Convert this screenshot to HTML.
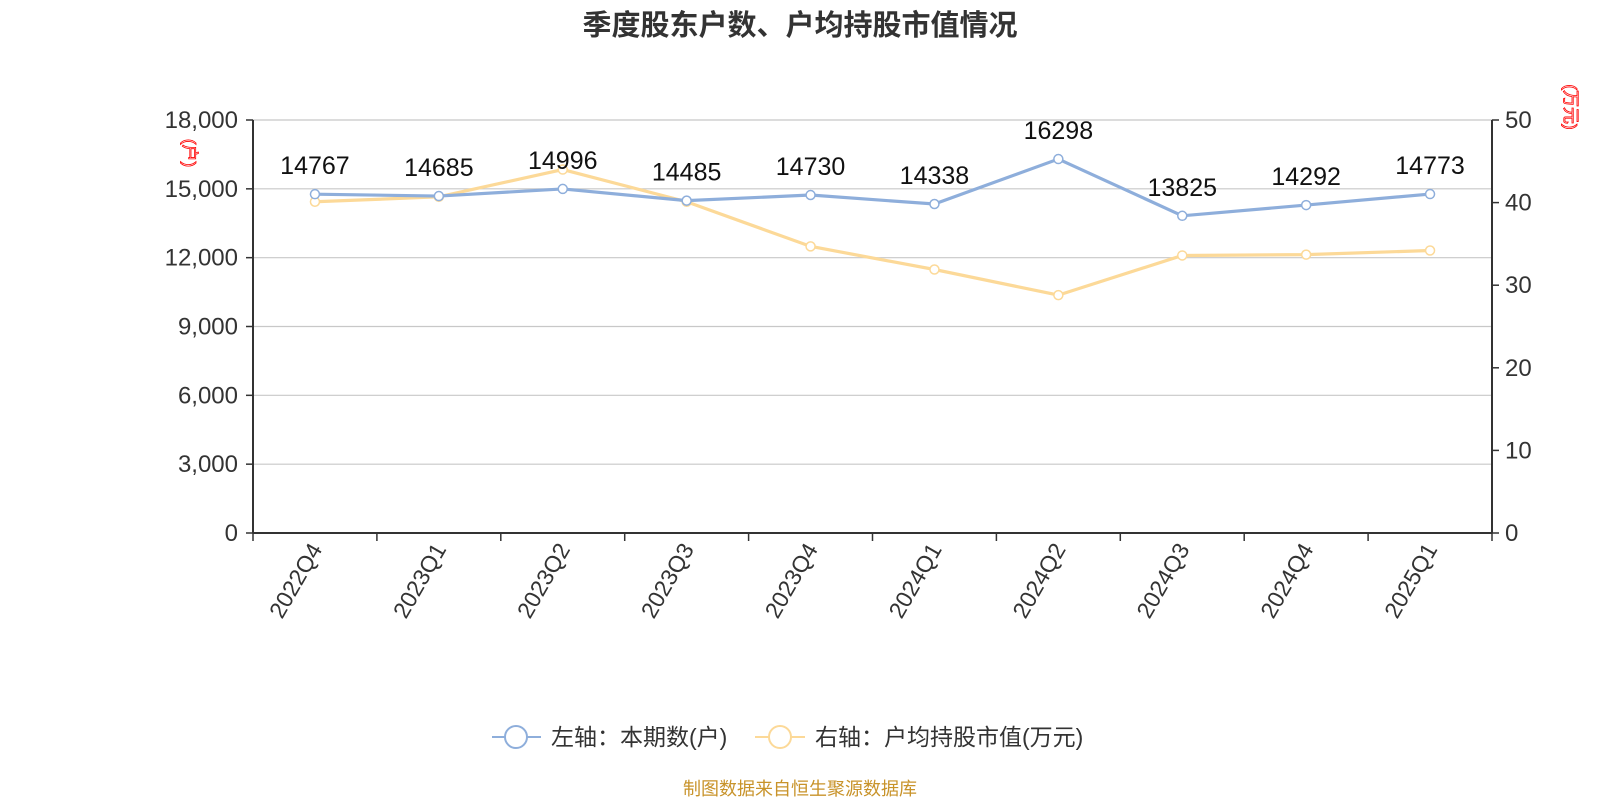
<!DOCTYPE html>
<html><head><meta charset="utf-8"><style>
body{margin:0;background:#fff;width:1600px;height:800px;overflow:hidden;font-family:"Liberation Sans","Noto Sans CJK SC",sans-serif}
</style></head><body>
<svg width="1600" height="800" xmlns="http://www.w3.org/2000/svg" font-family="Liberation Sans, Noto Sans CJK SC, sans-serif">
<text x="800" y="35" text-anchor="middle" font-size="29" font-weight="bold" fill="#333">季度股东户数、户均持股市值情况</text>
<g id="grid"></g><g id="axes"></g><g id="series"></g>
<text transform="translate(184,153) rotate(90)" text-anchor="middle" font-size="17" fill="none" stroke="red" stroke-width="0.8">(户)</text>
<text transform="translate(1565,107) rotate(90)" text-anchor="middle" font-size="17" fill="none" stroke="red" stroke-width="0.8">(万元)</text>
<g>
<g><line x1="492" y1="737" x2="541" y2="737" stroke="#8eaedb" stroke-width="2"/><circle cx="516" cy="737" r="11" fill="#fff" stroke="#8eaedb" stroke-width="2"/><text x="551" y="745" font-size="23" fill="#333">左轴：本期数(户)</text></g>
<g><line x1="755" y1="737" x2="805" y2="737" stroke="#fcd998" stroke-width="2"/><circle cx="780" cy="737" r="11" fill="#fff" stroke="#fcd998" stroke-width="2"/><text x="815" y="745" font-size="23" fill="#333">右轴：户均持股市值(万元)</text></g>
</g>
<text x="800" y="795" text-anchor="middle" font-size="18" fill="#c8932a">制图数据来自恒生聚源数据库</text>
</svg>
<script>
const categories=["2022Q4","2023Q1","2023Q2","2023Q3","2023Q4","2024Q1","2024Q2","2024Q3","2024Q4","2025Q1"];
const households=[14767,14685,14996,14485,14730,14338,16298,13825,14292,14773];
const avgValue=[40.1,40.7,44.0,40.1,34.7,31.9,28.8,33.6,33.7,34.2];
const leftTicks=[0,3000,6000,9000,12000,15000,18000];
const rightTicks=[0,10,20,30,40,50];
const NS="http://www.w3.org/2000/svg";
const L=253,R=1492,T=120,B=533;
const bw=(R-L)/categories.length;
const x=i=>L+bw*(i+0.5);
const yL=v=>B-(v/18000)*(B-T);
const yR=v=>B-(v/50)*(B-T);
function mk(tag,attrs,parent){const e=document.createElementNS(NS,tag);for(const k in attrs)e.setAttribute(k,attrs[k]);parent.appendChild(e);return e;}
const grid=document.getElementById('grid'),axes=document.getElementById('axes'),ser=document.getElementById('series');
leftTicks.forEach(v=>{
  if(v>0){const g=mk('line',{x1:L,x2:R,y1:yL(v),y2:yL(v),stroke:'#c8c8c8','stroke-width':1.2},grid);
  
  }
  mk('line',{x1:L-7,x2:L,y1:yL(v),y2:yL(v),stroke:'#333','stroke-width':1.5},axes);
  const t=mk('text',{x:L-15,y:yL(v)+8,'text-anchor':'end','font-size':24,fill:'#333'},axes);
  t.textContent=v.toLocaleString('en-US');
  
  
});
rightTicks.forEach(v=>{
  mk('line',{x1:R,x2:R+7,y1:yR(v),y2:yR(v),stroke:'#333','stroke-width':1.5},axes);
  const t=mk('text',{x:R+13,y:yR(v)+8,'font-size':24,fill:'#333'},axes);
  t.textContent=v;
  
  
});
mk('line',{x1:L,x2:L,y1:T,y2:B,stroke:'#333','stroke-width':2},axes);
mk('line',{x1:R,x2:R,y1:T,y2:B,stroke:'#333','stroke-width':2},axes);
mk('line',{x1:L,x2:R,y1:B,y2:B,stroke:'#333','stroke-width':2},axes);
for(let i=0;i<=categories.length;i++)mk('line',{x1:L+bw*i,x2:L+bw*i,y1:B,y2:B+8,stroke:'#333','stroke-width':1.5},axes);
categories.forEach((c,i)=>{
  const t=mk('text',{transform:`translate(${x(i)+8},${B+16}) rotate(-60)`,'text-anchor':'end','font-size':23,fill:'#333'},axes);
  t.textContent=c;
  
  
});
function line(vals,yf,color,name){
  const p=mk('polyline',{points:vals.map((v,i)=>x(i)+','+yf(v)).join(' '),fill:'none',stroke:color,'stroke-width':3.2},ser);
  
  
  vals.forEach((v,i)=>{
    const c=mk('circle',{cx:x(i),cy:yf(v),r:4.5,fill:'#fff',stroke:color,'stroke-width':1.5},ser);
    
    
  });
}
line(avgValue,yR,'#fcd998','avg-value');
line(households,yL,'#8eaedb','households');
households.forEach((v,i)=>{
  const t=mk('text',{x:x(i),y:yL(v)-20,'text-anchor':'middle','font-size':25,fill:'#111'},ser);
  t.textContent=v;
  
  
});
</script>
</body></html>
